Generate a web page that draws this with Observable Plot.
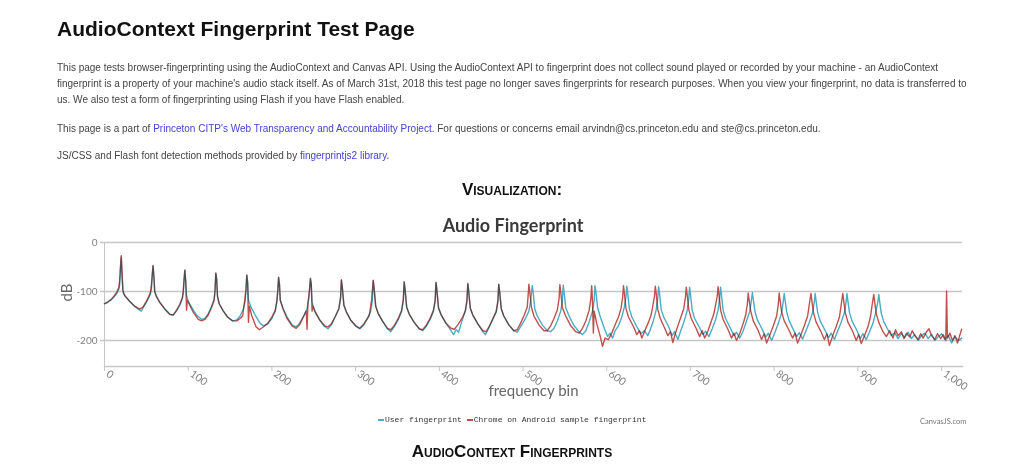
<!DOCTYPE html>
<html><head><meta charset="utf-8">
<script src="https://cdn.jsdelivr.net/npm/d3@7"></script>
<script src="https://cdn.jsdelivr.net/npm/@observablehq/plot@0.6"></script>
<style>
body{margin:0;background:#fff;width:1024px;height:470px;position:relative;overflow:hidden;font-family:"Liberation Sans",Arial,sans-serif;}
.abs{position:absolute;white-space:nowrap;}
.title{left:57px;top:17px;font-size:21px;line-height:24px;font-weight:bold;color:#111;}
.para{left:57px;font-size:10px;line-height:16px;color:#444;}
.para a{color:#4444cc;text-decoration:none;}
.sc{font-weight:bold;font-variant:small-caps;font-size:17px;color:#111;left:0;width:1024px;text-align:center;line-height:20px;}
.ctitle{left:0;width:1026px;text-align:center;top:213px;font-family:Lato,sans-serif;font-weight:bold;font-size:18px;line-height:24px;color:#3a3a3a;}
#chart{position:absolute;left:0;top:230px;}
.legend{left:378px;top:414px;font-family:"Liberation Mono",monospace;font-size:8px;line-height:12px;color:#333;}
.legend i{display:inline-block;width:6px;height:2px;vertical-align:middle;margin-right:1px;}
.credit{left:920px;top:416px;font-family:Lato,sans-serif;font-size:7.5px;line-height:12px;color:#777;}
</style></head><body>
<div class="abs title">AudioContext Fingerprint Test Page</div>
<div class="abs para" style="top:60px">This page tests browser-fingerprinting using the AudioContext and Canvas API. Using the AudioContext API to fingerprint does not collect sound played or recorded by your machine - an AudioContext<br>fingerprint is a property of your machine's audio stack itself. As of March 31st, 2018 this test page no longer saves fingerprints for research purposes. When you view your fingerprint, no data is transferred to<br>us. We also test a form of fingerprinting using Flash if you have Flash enabled.</div>
<div class="abs para" style="top:121px">This page is a part of <a>Princeton CITP's Web Transparency and Accountability Project</a>. For questions or concerns email arvindn@cs.princeton.edu and ste@cs.princeton.edu.</div>
<div class="abs para" style="top:148px">JS/CSS and Flash font detection methods provided by <a>fingerprintjs2 library</a>.</div>
<div class="abs sc" style="top:180px">Visualization:</div>
<div class="abs ctitle">Audio Fingerprint</div>
<div id="chart"></div>
<div class="abs legend"><i style="background:#4AACC5"></i>User fingerprint <i style="background:#C0504E"></i>Chrome on Android sample fingerprint</div>
<div class="abs credit">CanvasJS.com</div>
<div class="abs sc" style="top:442px">AudioContext Fingerprints</div>
<script>
const seriesNames = ["User fingerprint", "Chrome on Android sample fingerprint"];
const xTicks = [0, 100, 200, 300, 400, 500, 600, 700, 800, 900, 1000];
const yTicks = [0, -100, -200];

// [frequency bin, dB]
const userFingerprint = [
[0,-125],[4,-122],[8,-117],[12,-110],[15,-103],[17,-96],[18,-88],[19,-60],[20,-30],[21,-70],[22,-100],[23,-105],[25,-110],[30,-120],[36,-130],[42,-138],[44,-140],[46,-133],[50,-122],[53,-112],[55,-105],[56,-95],[57,-70],[58,-48],[59,-70],[60,-100],[62,-110],[66,-122],[72,-135],[78,-146],[82,-148],[86,-140],[90,-128],[93,-115],[94,-105],[95,-80],[96,-57],[97,-80],[98,-108],[100,-120],[105,-135],[110,-148],[116,-157],[120,-155],[124,-145],[128,-130],[131,-115],[132,-100],[133,-63],[134,-75],[135,-110],[137,-125],[142,-140],[147,-152],[153,-160],[158,-158],[162,-150],[166,-135],[168,-120],[169,-100],[170,-67],[171,-80],[172,-118],[175,-132],[180,-148],[186,-165],[190,-170],[195,-166],[200,-155],[204,-140],[206,-120],[207,-100],[208,-72],[209,-85],[210,-118],[213,-133],[218,-152],[224,-168],[229,-172],[233,-165],[238,-150],[242,-135],[244,-115],[245,-95],[246,-74],[247,-85],[248,-122],[251,-140],[256,-155],[262,-170],[267,-176],[271,-168],[276,-150],[280,-135],[282,-115],[283,-77],[284,-90],[286,-128],[289,-142],[294,-158],[300,-170],[305,-176],[309,-170],[314,-156],[318,-140],[320,-118],[321,-78],[322,-92],[324,-130],[327,-145],[332,-160],[338,-176],[342,-182],[346,-172],[351,-157],[355,-140],[357,-118],[358,-81],[359,-95],[361,-132],[364,-146],[370,-163],[376,-176],[380,-180],[384,-172],[389,-157],[393,-140],[395,-120],[396,-82],[397,-96],[399,-133],[402,-147],[408,-165],[414,-180],[417,-188],[420,-178],[423,-183],[427,-160],[431,-140],[433,-120],[434,-85],[435,-98],[437,-134],[440,-148],[446,-166],[452,-182],[455,-188],[458,-178],[463,-160],[468,-142],[470,-120],[471,-86],[472,-100],[474,-135],[477,-150],[483,-168],[489,-180],[493,-183],[497,-172],[502,-158],[507,-140],[509,-120],[511,-88],[512,-100],[514,-135],[517,-150],[523,-168],[529,-180],[533,-182],[537,-175],[541,-160],[545,-140],[547,-120],[548,-87],[549,-100],[551,-133],[555,-150],[561,-170],[567,-182],[571,-188],[575,-180],[579,-162],[583,-140],[585,-118],[586,-88],[587,-100],[589,-132],[592,-150],[597,-175],[601,-192],[604,-185],[607,-195],[610,-180],[614,-170],[618,-152],[621,-132],[623,-110],[624,-89],[625,-102],[627,-135],[630,-152],[636,-172],[641,-186],[645,-180],[649,-190],[652,-178],[656,-158],[659,-138],[661,-112],[662,-90],[663,-103],[665,-137],[668,-152],[674,-172],[678,-190],[681,-182],[685,-198],[688,-182],[692,-163],[696,-140],[698,-115],[699,-91],[700,-105],[702,-137],[705,-155],[711,-174],[715,-188],[718,-181],[722,-192],[726,-176],[730,-158],[733,-138],[735,-112],[736,-91],[737,-105],[739,-138],[742,-155],[748,-176],[752,-190],[755,-183],[759,-195],[763,-180],[767,-160],[771,-140],[773,-115],[774,-102],[775,-115],[777,-140],[780,-158],[786,-178],[790,-193],[793,-185],[797,-200],[801,-183],[805,-165],[809,-143],[811,-118],[812,-104],[813,-117],[815,-142],[818,-160],[823,-178],[827,-192],[830,-184],[834,-197],[838,-180],[842,-163],[846,-143],[848,-120],[849,-104],[850,-118],[852,-143],[855,-160],[861,-180],[865,-194],[868,-185],[872,-198],[876,-180],[880,-163],[884,-143],[886,-120],[887,-104],[888,-118],[890,-143],[893,-160],[899,-180],[903,-196],[906,-186],[910,-198],[914,-182],[918,-165],[921,-145],[924,-120],[925,-106],[926,-120],[928,-145],[931,-162],[936,-178],[940,-190],[944,-184],[948,-196],[952,-186],[956,-194],[960,-183],[964,-196],[968,-188],[972,-200],[976,-190],[980,-185],[984,-196],[988,-187],[992,-200],[996,-192],[1000,-186],[1004,-198],[1008,-190],[1012,-205],[1016,-192],[1020,-200],[1024,-195]
];

const chromeFingerprint = [
[0,-125],[4,-121],[8,-116],[12,-108],[15,-100],[17,-92],[18,-80],[19,-50],[20,-27],[21,-60],[22,-98],[24,-108],[30,-120],[36,-130],[42,-136],[46,-132],[50,-120],[53,-110],[55,-100],[56,-88],[57,-65],[58,-47],[59,-68],[60,-100],[62,-110],[66,-122],[72,-136],[78,-147],[82,-148],[86,-138],[90,-126],[93,-112],[94,-100],[95,-75],[96,-56],[97,-78],[98,-138],[99,-118],[101,-125],[106,-142],[112,-157],[116,-160],[120,-157],[124,-148],[128,-132],[131,-118],[132,-98],[133,-62],[134,-75],[135,-110],[137,-125],[142,-140],[147,-152],[153,-160],[158,-160],[162,-155],[165,-150],[167,-125],[169,-95],[170,-66],[171,-85],[172,-163],[173,-130],[176,-150],[181,-172],[185,-178],[190,-172],[195,-165],[200,-152],[204,-138],[206,-118],[207,-98],[208,-71],[209,-85],[210,-118],[213,-134],[218,-155],[224,-170],[229,-175],[233,-168],[238,-150],[241,-140],[242,-177],[243,-125],[245,-95],[246,-73],[247,-85],[248,-140],[249,-130],[252,-142],[257,-158],[263,-170],[267,-172],[271,-166],[276,-150],[280,-135],[282,-112],[283,-76],[284,-90],[286,-128],[289,-142],[294,-158],[300,-170],[305,-175],[309,-168],[314,-155],[316,-150],[317,-142],[319,-118],[321,-77],[322,-92],[324,-130],[327,-145],[332,-160],[338,-175],[342,-178],[346,-170],[351,-155],[355,-138],[357,-115],[358,-80],[359,-95],[361,-132],[364,-146],[370,-163],[376,-176],[380,-178],[384,-170],[389,-155],[393,-138],[395,-118],[396,-81],[397,-96],[399,-133],[402,-147],[408,-165],[414,-175],[418,-177],[422,-168],[427,-155],[431,-140],[433,-118],[434,-83],[435,-98],[437,-134],[440,-148],[446,-166],[452,-180],[456,-182],[460,-170],[464,-155],[468,-140],[470,-118],[471,-85],[472,-100],[474,-135],[477,-150],[483,-168],[489,-180],[493,-178],[497,-165],[501,-150],[505,-132],[506,-110],[507,-85],[508,-100],[510,-132],[513,-150],[519,-168],[525,-180],[529,-180],[533,-170],[537,-155],[541,-137],[543,-115],[544,-86],[545,-100],[547,-133],[551,-150],[557,-170],[563,-182],[567,-185],[571,-175],[575,-160],[579,-138],[581,-115],[582,-88],[583,-120],[584,-185],[585,-140],[588,-165],[592,-190],[595,-212],[598,-195],[602,-198],[606,-185],[610,-168],[614,-152],[617,-135],[619,-112],[620,-88],[621,-102],[623,-135],[626,-152],[632,-172],[636,-188],[639,-180],[642,-195],[646,-178],[650,-162],[653,-148],[655,-130],[657,-110],[658,-89],[659,-102],[661,-137],[664,-155],[669,-174],[673,-190],[676,-182],[679,-204],[682,-185],[686,-165],[689,-150],[692,-135],[694,-112],[695,-91],[696,-105],[698,-137],[701,-155],[707,-176],[711,-192],[714,-180],[717,-195],[721,-180],[725,-160],[728,-145],[730,-128],[732,-110],[733,-90],[734,-105],[736,-138],[739,-157],[745,-178],[749,-195],[752,-185],[755,-200],[759,-185],[763,-165],[766,-148],[768,-125],[769,-103],[770,-116],[772,-140],[775,-160],[781,-180],[785,-198],[788,-186],[791,-205],[795,-188],[799,-170],[803,-150],[805,-125],[806,-103],[807,-117],[809,-142],[812,-160],[818,-180],[822,-195],[825,-185],[828,-205],[832,-188],[836,-170],[840,-150],[842,-126],[844,-104],[845,-118],[847,-143],[850,-162],[856,-182],[860,-198],[863,-186],[866,-210],[870,-190],[874,-172],[878,-152],[880,-128],[882,-104],[883,-118],[885,-143],[888,-162],[894,-182],[898,-200],[901,-188],[904,-206],[908,-190],[912,-172],[915,-152],[917,-128],[919,-106],[920,-120],[922,-145],[925,-163],[930,-182],[934,-192],[938,-180],[942,-195],[945,-178],[948,-190],[952,-182],[955,-196],[958,-185],[962,-193],[965,-180],[968,-190],[972,-198],[975,-186],[978,-195],[982,-182],[985,-176],[988,-190],[992,-198],[995,-186],[999,-196],[1002,-188],[1005,-200],[1006,-99],[1007,-195],[1010,-185],[1013,-200],[1016,-190],[1019,-205],[1022,-188],[1024,-177]
];

const seriesColors = ["#4AACC5", "#C0504E"];
const grid = "#c6c6c6";
const fmt = d3.format(",");

const chart = Plot.plot({
  width: 1024,
  height: 175,
  marginTop: 12,
  marginBottom: 39,
  marginLeft: 104,
  marginRight: 62,
  x: {domain: [0, 1025]},
  y: {domain: [-253, 0], axis: null},
  style: {background: "transparent", overflow: "visible"},
  marks: [
    Plot.ruleY(yTicks, {y: d => d, stroke: grid, strokeWidth: 1.3, insetLeft: -4}),
    Plot.frame({anchor: "bottom", stroke: grid, strokeWidth: 1.3}),
    Plot.frame({anchor: "left", stroke: grid, strokeWidth: 1}),
    Plot.axisX(xTicks, {tickSize: 5, tickFormat: () => "", stroke: grid, label: null}),
    Plot.text(yTicks, {y: d => d, text: d => String(d), frameAnchor: "left", textAnchor: "end", dx: -7, fill: "#808080", fontSize: 10, fontFamily: "Lato"}),
    Plot.text(xTicks, {x: d => d, text: d => fmt(d), frameAnchor: "bottom", rotate: 35, textAnchor: "start", dx: 1, dy: 9, fill: "#808080", fontSize: 10.5, fontFamily: "Lato"}),
    Plot.text(["dB"], {frameAnchor: "left", rotate: -90, dx: -37, dy: -3, fill: "#666", fontSize: 15, fontFamily: "Lato"}),
    Plot.text(["frequency bin"], {frameAnchor: "bottom", dx: 0, dy: 29, fill: "#666", fontSize: 15, fontFamily: "Lato"}),
    Plot.line(userFingerprint, {x: d => d[0], y: d => d[1], stroke: seriesColors[0], strokeWidth: 1.4}),
    Plot.line(chromeFingerprint, {x: d => d[0], y: d => d[1], stroke: seriesColors[1], strokeWidth: 1.4, mixBlendMode: "darken"})
  ]
});
document.getElementById("chart").appendChild(chart);
</script>
</body></html>
